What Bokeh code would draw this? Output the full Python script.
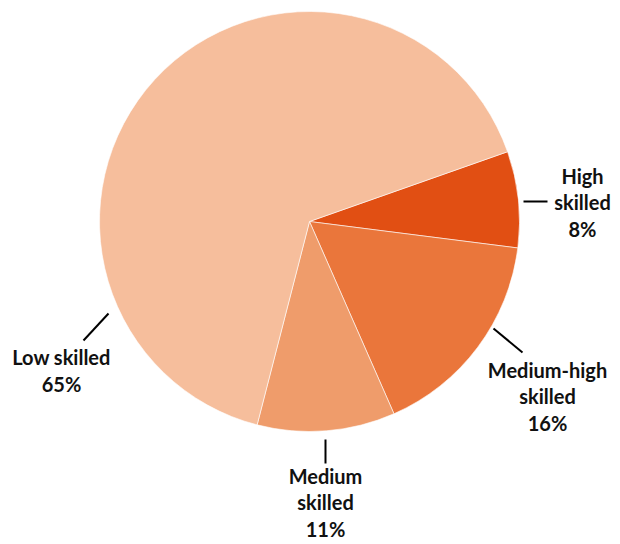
import math
from bokeh.plotting import figure
from bokeh.models import Range1d, ColumnDataSource
from bokeh.core.properties import value
from bokeh.embed import file_html
from bokeh.resources import INLINE

# ---- data ----
categories = ["High skilled", "Medium-high skilled", "Medium skilled", "Low skilled"]
shares = [7.4, 16.4, 10.6, 65.6]
pct_labels = ["8%", "16%", "11%", "65%"]
colors = ["#E14F13", "#EA763B", "#EF9C6B", "#F6BE9C"]

# ---- layout ----
W, H = 620, 544
cx_px, cy_px = 309, 221          # pie centre inside the frame (pixels from top-left)
R = 210
start_deg = 19.4                 # first slice boundary, slices run clockwise
label_lines = ["High\nskilled", "Medium-high\nskilled", "Medium\nskilled", "Low skilled"]
label_pos = [(273, 19), (238, -175), (16, -281), (-248, -149)]
leaders = [((214, 20), (238, 20)),
           ((184, -107), (213, -131)),
           ((16, -218), (16, -242)),
           ((-201, -92), (-226, -119))]

p = figure(width=W, height=H, output_backend="svg", toolbar_location=None,
           x_range=Range1d(-cx_px, W - cx_px), y_range=Range1d(-(H - cy_px), cy_px),
           min_border=0, outline_line_color=None)
p.axis.visible = False
p.grid.visible = False
p.background_fill_color = "white"

total = sum(shares)
starts, ends = [], []
acc = start_deg
for s in shares:
    span = s / total * 360.0
    hi = acc
    lo = acc - span
    starts.append(math.radians(lo))
    ends.append(math.radians(hi))
    acc = lo

src = ColumnDataSource(dict(start=starts, end=ends, color=colors, cat=categories))
p.wedge(x=0, y=0, radius=R, start_angle="start", end_angle="end", direction="anticlock",
        fill_color="color", line_color="white", line_width=0.6, source=src)

p.segment(x0=[l[0][0] for l in leaders], y0=[l[0][1] for l in leaders],
          x1=[l[1][0] for l in leaders], y1=[l[1][1] for l in leaders],
          line_color="black", line_width=2)

texts = [f"{a}\n{b}" for a, b in zip(label_lines, pct_labels)]
p.text(x=[q[0] for q in label_pos], y=[q[1] for q in label_pos], text=texts,
       text_align="center", text_baseline="middle", text_font=value("Lato"),
       text_font_style="bold", text_font_size="20px", text_line_height=1.1,
       text_color="#111111")

open("out.html", "w").write(file_html(p, INLINE))
